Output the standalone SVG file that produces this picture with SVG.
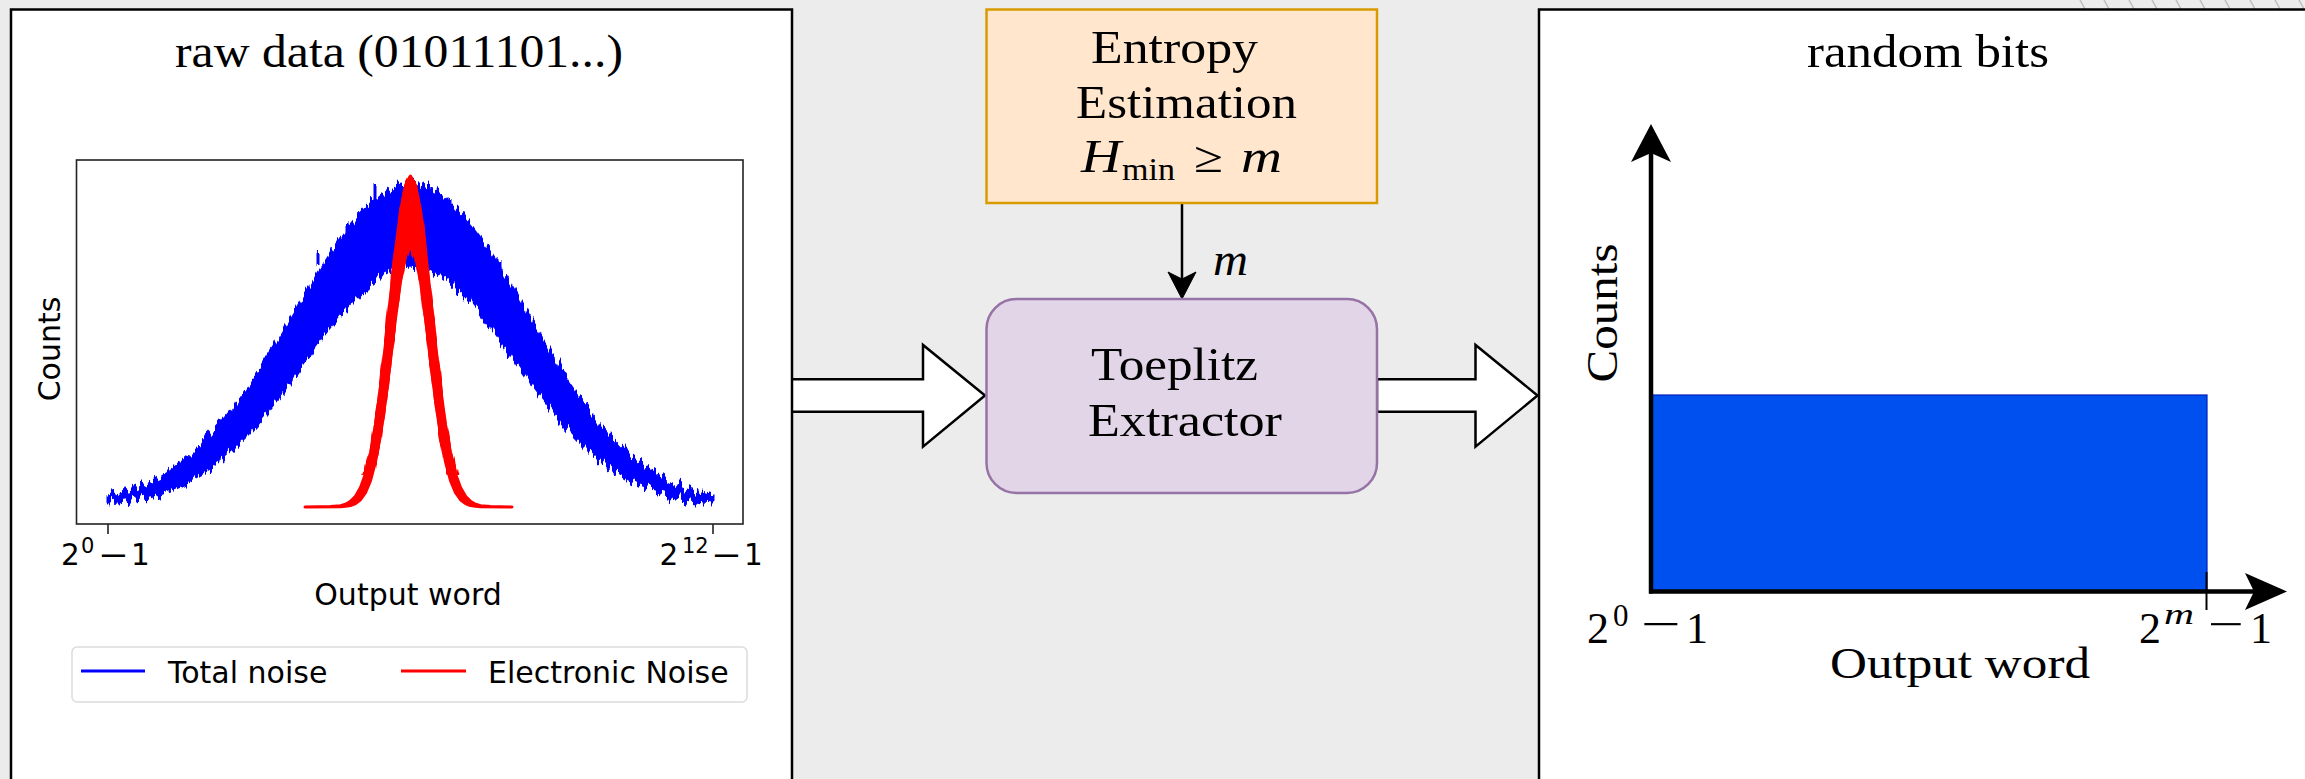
<svg xmlns="http://www.w3.org/2000/svg" width="2305" height="779" viewBox="0 0 2305 779">
  <defs>
    <style>
      .serif { font-family: "Liberation Serif", "Times New Roman", serif; fill: #000; }
      .it { font-style: italic; }
      .mpl { font-family: "DejaVu Sans", "Liberation Sans", sans-serif; fill: #000; }
      .panel { fill: #ffffff; stroke: #000; stroke-width: 2.5; }
      .hollow { fill: #ffffff; stroke: #000; stroke-width: 2.5; stroke-linejoin: miter; }
      .axis { stroke: #000; stroke-width: 4.5; fill: none; }
      .hatch { stroke: #bdbdbd; stroke-width: 1.5; }
    </style>
    <!-- column-wise vertical jitter used to give the histogram traces a noisy edge -->
    <filter id="jitter" x="-5%" y="-15%" width="110%" height="130%" color-interpolation-filters="sRGB">
      <feTurbulence type="fractalNoise" baseFrequency="0.3 0.015" numOctaves="2" seed="7" result="noise"/>
      <feColorMatrix in="noise" type="matrix" values="0 0 0 0 0.5  0 1 0 0 0  0 0 0 0 0  0 0 0 0 1" result="dy"/>
      <feDisplacementMap in="SourceGraphic" in2="dy" scale="24" xChannelSelector="R" yChannelSelector="G"/>
    </filter>
    <filter id="jitterRed" x="-10%" y="-15%" width="120%" height="130%" color-interpolation-filters="sRGB">
      <feTurbulence type="fractalNoise" baseFrequency="0.35 0.02" numOctaves="2" seed="3" result="noise"/>
      <feColorMatrix in="noise" type="matrix" values="0 0 0 0 0.5  0 1 0 0 0  0 0 0 0 0  0 0 0 0 1" result="dy"/>
      <feDisplacementMap in="SourceGraphic" in2="dy" scale="30" xChannelSelector="R" yChannelSelector="G"/>
    </filter>
    <clipPath id="redTop">
      <rect x="300" y="150" width="220" height="325"/>
    </clipPath>
    <polygon id="redShape" points="305,507 330.5,506.6 340.5,505.7 345.5,504.2 350.5,501.4 355.5,496.3 360.5,487.6 365.5,473.7 370.5,453.1 375.5,424.5 380.5,387.7 385.5,344 390.5,296.7 395.5,250.5 400.5,211.5 405.5,185.2 410.5,176 415.5,185.2 420.5,211.5 425.5,250.5 430.5,296.7 435.5,344 440.5,387.7 445.5,424.5 450.5,453.1 455.5,473.7 460.5,487.6 465.5,496.3 470.5,501.4 475.5,504.2 480.5,505.7 490.5,506.6 512,507 480.5,506.7 475.5,506.3 470.5,505.5 465.5,503.5 460.5,499.7 455.5,492.6 450.5,480.6 445.5,461.8 440.5,435.1 435.5,400.5 430.5,360.2 425.5,318.5 420.5,281.6 415.5,256.1 410.5,247 405.5,256.1 400.5,281.6 395.5,318.5 390.5,360.2 385.5,400.5 380.5,435.1 375.5,461.8 370.5,480.6 365.5,492.6 360.5,499.7 355.5,503.5 350.5,505.5 345.5,506.3 340.5,506.7"/>
  </defs>

  <!-- canvas -->
  <rect x="0" y="0" width="2305" height="779" fill="#ececec"/>
  <g id="hatching">
    <line class="hatch" x1="2080" y1="0" x2="2085" y2="9"/>
    <line class="hatch" x1="2104" y1="0" x2="2109" y2="9"/>
    <line class="hatch" x1="2129" y1="0" x2="2134" y2="9"/>
    <line class="hatch" x1="2152" y1="0" x2="2157" y2="9"/>
    <line class="hatch" x1="2176" y1="0" x2="2181" y2="9"/>
    <line class="hatch" x1="2200" y1="0" x2="2205" y2="9"/>
    <line class="hatch" x1="2225" y1="0" x2="2230" y2="9"/>
    <line class="hatch" x1="2250" y1="0" x2="2255" y2="9"/>
    <line class="hatch" x1="2275" y1="0" x2="2280" y2="9"/>
    <line class="hatch" x1="2299" y1="0" x2="2304" y2="9"/>
  </g>

  <!-- connectors -->
  <g id="connectors">
    <path class="hollow" d="M791,379.3 L923,379.3 L923,345 L985,395.5 L923,446.7 L923,411.7 L791,411.7 Z"/>
    <path class="hollow" d="M1377,379.3 L1475.5,379.3 L1475.5,345 L1537.5,395.5 L1475.5,446.7 L1475.5,411.7 L1377,411.7 Z"/>
    <line x1="1182" y1="203" x2="1182" y2="282" stroke="#000" stroke-width="2.5"/>
    <path d="M1182,299 L1168,272 L1182,279 L1196,272 Z" fill="#000" stroke="#000" stroke-width="1"/>
    <text class="serif it" x="1213" y="275" font-size="46" textLength="35" lengthAdjust="spacingAndGlyphs">m</text>
  </g>

  <!-- raw data panel with the measured histogram -->
  <g id="panel-raw">
    <rect class="panel" x="11" y="9.5" width="781" height="800"/>
    <text class="serif" x="175" y="67" font-size="46" textLength="448" lengthAdjust="spacingAndGlyphs">raw data (01011101...)</text>

    <g id="trace-total" filter="url(#jitter)">
      <polygon fill="#0000ff" stroke="#0000ff" stroke-width="3" stroke-linejoin="round" points="108,497 120.5,493.6 130.5,490.4 140.5,486.5 150.5,482 160.5,476.7 170.5,470.5 180.5,463.4 190.5,455.3 200.5,446.2 210.5,436 220.5,424.8 230.5,412.4 240.5,399 250.5,384.7 260.5,369.5 270.5,353.5 280.5,337 290.5,320.2 300.5,303.2 310.5,286.4 320.5,269.9 330.5,254.2 340.5,239.5 350.5,226 360.5,214 370.5,203.9 380.5,195.8 390.5,189.8 400.5,186.2 410.5,185 420.5,186.2 430.5,189.8 440.5,195.8 450.5,203.9 460.5,214 470.5,226 480.5,239.5 490.5,254.2 500.5,269.9 510.5,286.4 520.5,303.2 530.5,320.2 540.5,337 550.5,353.5 560.5,369.5 570.5,384.7 580.5,399 590.5,412.4 600.5,424.8 610.5,436 620.5,446.2 630.5,455.3 640.5,463.4 650.5,470.5 660.5,476.7 670.5,482 680.5,486.5 690.5,490.4 700.5,493.6 713,497 713,503 700.5,501.7 690.5,500.1 680.5,498.1 670.5,495.7 660.5,492.8 650.5,489.2 640.5,485 630.5,480 620.5,474.2 610.5,467.6 600.5,459.9 590.5,451.3 580.5,441.7 570.5,431.2 560.5,419.8 550.5,407.5 540.5,394.6 530.5,381.1 520.5,367.2 510.5,353.2 500.5,339.4 490.5,326 480.5,313.2 470.5,301.5 460.5,290.9 450.5,281.9 440.5,274.7 430.5,269.4 420.5,266.1 410.5,265 400.5,266.1 390.5,269.4 380.5,274.7 370.5,281.9 360.5,290.9 350.5,301.5 340.5,313.2 330.5,326 320.5,339.4 310.5,353.2 300.5,367.2 290.5,381.1 280.5,394.6 270.5,407.5 260.5,419.8 250.5,431.2 240.5,441.7 230.5,451.3 220.5,459.9 210.5,467.6 200.5,474.2 190.5,480 180.5,485 170.5,489.2 160.5,492.8 150.5,495.7 140.5,498.1 130.5,500.1 120.5,501.7 108,503"/>
      <path d="M375,200 L375,185 M347,232 L347,222 M450,205 L450,198 M318,265 L318,252 M500,270 L500,262" stroke="#0000ff" stroke-width="3"/>
    </g>

    <!-- smooth base of the electronic-noise trace, with a jittered copy over its upper part -->
    <g id="trace-electronic">
      <use href="#redShape" fill="#ff0000" stroke="#ff0000" stroke-width="3" stroke-linejoin="round"/>
      <g clip-path="url(#redTop)">
        <g filter="url(#jitterRed)">
          <use href="#redShape" fill="#ff0000" stroke="#ff0000" stroke-width="3" stroke-linejoin="round"/>
        </g>
      </g>
    </g>

    <!-- axes frame and ticks -->
    <rect x="76.5" y="160" width="666.5" height="364" fill="none" stroke="#222" stroke-width="1.6"/>
    <line x1="108" y1="524" x2="108" y2="534" stroke="#222" stroke-width="1.6"/>
    <line x1="713" y1="524" x2="713" y2="534" stroke="#222" stroke-width="1.6"/>

    <text class="mpl" x="61" y="565" font-size="29.5">2</text>
    <text class="mpl" x="81" y="553" font-size="21">0</text>
    <text class="mpl" x="98" y="565" font-size="29.5" textLength="31" lengthAdjust="spacingAndGlyphs">−</text>
    <text class="mpl" x="131" y="565" font-size="29.5">1</text>

    <text class="mpl" x="659.5" y="565" font-size="29.5">2</text>
    <text class="mpl" x="682" y="553" font-size="21">12</text>
    <text class="mpl" x="711" y="565" font-size="29.5" textLength="31" lengthAdjust="spacingAndGlyphs">−</text>
    <text class="mpl" x="744" y="565" font-size="29.5">1</text>

    <text class="mpl" x="408" y="605" font-size="30" text-anchor="middle">Output word</text>
    <text class="mpl" transform="translate(60,349) rotate(-90)" font-size="30" text-anchor="middle">Counts</text>

    <!-- legend -->
    <rect x="72" y="647" width="675" height="55" rx="5" fill="#ffffff" stroke="#dcdcdc" stroke-width="1.5"/>
    <line x1="81" y1="671" x2="145" y2="671" stroke="#0000ff" stroke-width="3"/>
    <text class="mpl" x="168" y="683" font-size="30">Total noise</text>
    <line x1="401" y1="671" x2="466" y2="671" stroke="#ff0000" stroke-width="3"/>
    <text class="mpl" x="488" y="683" font-size="30">Electronic Noise</text>
  </g>

  <!-- entropy estimation -->
  <g id="node-entropy">
    <rect x="986.5" y="9.5" width="390.5" height="193.5" fill="#ffe6cc" stroke="#d79b00" stroke-width="2.5"/>
    <text class="serif" x="1091" y="63" font-size="46" textLength="167" lengthAdjust="spacingAndGlyphs">Entropy</text>
    <text class="serif" x="1076" y="118" font-size="46" textLength="221" lengthAdjust="spacingAndGlyphs">Estimation</text>
    <text class="serif it" x="1081" y="172" font-size="46" textLength="40" lengthAdjust="spacingAndGlyphs">H</text>
    <text class="serif" x="1122" y="180" font-size="32" textLength="53" lengthAdjust="spacingAndGlyphs">min</text>
    <text class="serif" x="1194" y="172" font-size="44" textLength="29" lengthAdjust="spacingAndGlyphs">≥</text>
    <text class="serif it" x="1241" y="172" font-size="46" textLength="41" lengthAdjust="spacingAndGlyphs">m</text>
  </g>

  <!-- extractor -->
  <g id="node-toeplitz">
    <rect x="986.5" y="299" width="390.5" height="194" rx="30" ry="30" fill="#e1d5e7" stroke="#9673a6" stroke-width="2.5"/>
    <text class="serif" x="1091" y="380" font-size="46" textLength="167" lengthAdjust="spacingAndGlyphs">Toeplitz</text>
    <text class="serif" x="1088" y="436" font-size="46" textLength="194" lengthAdjust="spacingAndGlyphs">Extractor</text>
  </g>

  <!-- output panel with the uniform distribution -->
  <g id="panel-random">
    <rect class="panel" x="1539" y="9.5" width="800" height="800"/>
    <text class="serif" x="1807" y="67" font-size="46" textLength="242" lengthAdjust="spacingAndGlyphs">random bits</text>

    <rect x="1651" y="395" width="556" height="196.5" fill="#0050ef" stroke="#001dbc" stroke-width="1.2"/>

    <line class="axis" x1="1651" y1="593.5" x2="1651" y2="150"/>
    <path d="M1651,124 L1671,162 L1651,153 L1631,162 Z" fill="#000"/>
    <line class="axis" x1="1649" y1="591.5" x2="2262" y2="591.5"/>
    <path d="M2287,591.5 L2245,610 L2254,591.5 L2245,573 Z" fill="#000"/>
    <line x1="2206.5" y1="572" x2="2206.5" y2="610" stroke="#000" stroke-width="2"/>

    <text class="serif" x="1587" y="643" font-size="44">2</text>
    <text class="serif" x="1613" y="626" font-size="31">0</text>
    <text class="serif" x="1641" y="639" font-size="44" textLength="40" lengthAdjust="spacingAndGlyphs">−</text>
    <text class="serif" x="1686" y="643" font-size="44">1</text>

    <text class="serif" x="2139" y="643" font-size="44">2</text>
    <text class="serif it" x="2164" y="624" font-size="30" textLength="30" lengthAdjust="spacingAndGlyphs">m</text>
    <text class="serif" x="2208" y="639" font-size="44" textLength="36" lengthAdjust="spacingAndGlyphs">−</text>
    <text class="serif" x="2250" y="643" font-size="44">1</text>

    <text class="serif" x="1830" y="678" font-size="44" textLength="260" lengthAdjust="spacingAndGlyphs">Output word</text>
    <text class="serif" transform="translate(1617,313) rotate(-90)" font-size="44" text-anchor="middle" textLength="139" lengthAdjust="spacingAndGlyphs">Counts</text>
  </g>
</svg>
